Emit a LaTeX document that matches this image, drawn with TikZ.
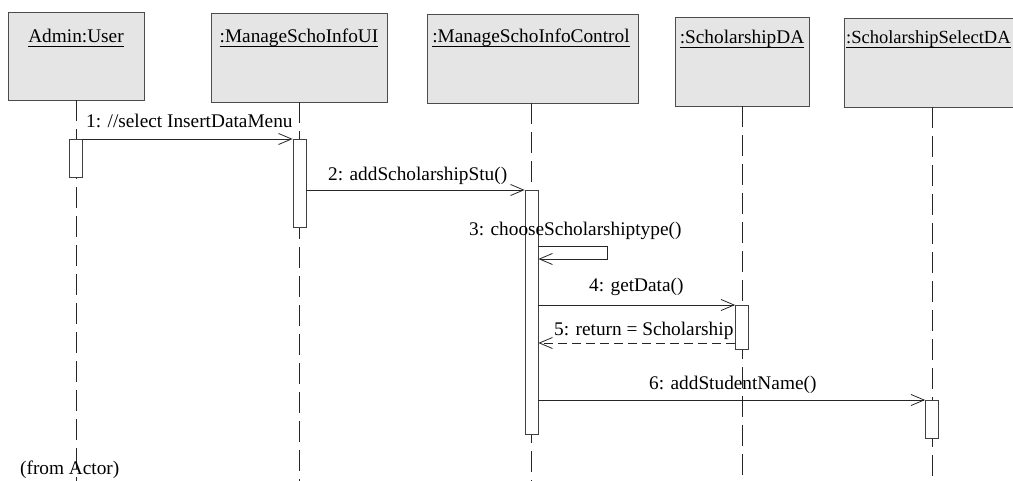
\documentclass[tikz,border=0pt]{standalone}
\usepackage{fontspec}
\setmainfont{Liberation Serif}
\usetikzlibrary{arrows.meta}
\newcommand{\ulname}[1]{\setbox0\hbox{#1}\rlap{\rule[-3.8pt]{\wd0}{0.9pt}}\box0}
\tikzset{
  objbox/.style={draw=black!70, line width=0.8pt, fill=black!10, inner sep=0pt},
  objtext/.style={anchor=base, inner sep=0pt, font=\fontsize{19.3}{22}\selectfont},
  lbl/.style={anchor=base west, inner sep=0pt, font=\fontsize{19.3}{22}\selectfont},
  lifeline/.style={draw=black!85, line width=0.9pt, dash pattern=on 21pt off 8pt},
  act/.style={draw=black!75, line width=0.8pt, fill=white, minimum width=13pt, inner sep=0pt, anchor=north},
  msg/.style={draw=black!85, line width=0.9pt, -{Straight Barb[length=13pt,width=11pt,line width=0.8pt]}},
  ret/.style={msg, dash pattern=on 9pt off 5pt}
}
\begin{document}
\begin{tikzpicture}[x=1pt,y=-1pt]
\useasboundingbox (0,0) rectangle (1013,481);
\clip (0,0) rectangle (1013,481);
% object boxes
\node[objbox, minimum width=136pt, minimum height=88pt] (o1) at (76,56) {};
\node[objbox, minimum width=176pt, minimum height=89pt] (o2) at (299,57.5) {};
\node[objbox, minimum width=211pt, minimum height=89pt] (o3) at (532.5,58.5) {};
\node[objbox, minimum width=134pt, minimum height=89pt] (o4) at (742,61.5) {};
\node[objbox, minimum width=176pt, minimum height=89pt] (o5) at (932,62.5) {};
\node[objtext] (t1) at (76,43) {\ulname{Admin:User}};
\node[objtext] (t2) at (299,43) {\ulname{:ManageSchoInfoUI}};
\node[objtext] (t3) at (531,43) {\ulname{:ManageSchoInfoControl}};
\node[objtext] (t4) at (742,44) {\ulname{:ScholarshipDA}};
\node[objtext, anchor=base west, font=\fontsize{18.5}{22}\selectfont] (t5) at (846,44) {\ulname{:ScholarshipSelectDA}};
% lifeline ends
\coordinate (e1) at (76,481);
\coordinate (e2) at (299.5,481);
\coordinate (e3) at (531.5,481);
\coordinate (e4) at (742,481);
\coordinate (e5) at (932,481);
\draw[lifeline] (o1.south -| e1) -- (e1);
\draw[lifeline] (o2.south -| e2) -- (e2);
\draw[lifeline] (o3.south -| e3) -- (e3);
\draw[lifeline] (o4.south -| e4) -- (e4);
\draw[lifeline] (o5.south -| e5) -- (e5);
% activations
\node[act, minimum height=38pt] (a1) at (75.5,139) {};
\node[act, minimum height=88pt] (a2) at (299.5,139) {};
\node[act, minimum height=244pt] (a3) at (531.5,190) {};
\node[act, minimum height=44pt] (a4) at (742,305) {};
\node[act, minimum height=38pt] (a5) at (932,400) {};
% messages
\draw[msg] (a1.north east) -- (a2.north west);
\node[lbl] (m1) at (86,128) {1: //select InsertDataMenu};
\draw[msg] (a2.east |- a3.north) -- (a3.north west);
\node[lbl] (m2) at (328,181) {2: addScholarshipStu()};
\coordinate (s1) at (607,246);
\coordinate (s2) at (607,259);
\draw[msg] (a3.east |- s1) -- (s1) -- (s2) -- (a3.east |- s2);
\node[lbl] (m3) at (469,236) {3: chooseScholarshiptype()};
\draw[msg] (a3.east |- a4.north) -- (a4.north west);
\node[lbl] (m4) at (589,292) {4: getData()};
\coordinate (y5) at (0,343);
\draw[ret] (a4.west |- y5) -- (a3.east |- y5);
\node[lbl] (m5) at (554,336) {5: return = Scholarship};
\draw[msg] (a3.east |- a5.north) -- (a5.north west);
\node[lbl] (m6) at (649,389) {6: addStudentName()};
\node[lbl] (fa) at (20,474) {(from Actor)};
\end{tikzpicture}
\end{document}
